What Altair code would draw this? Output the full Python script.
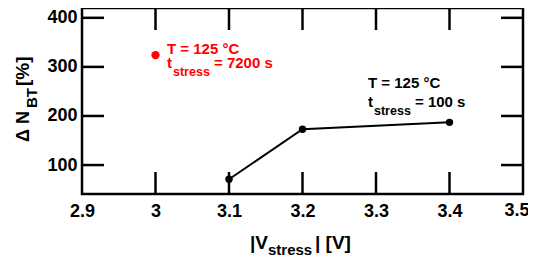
import altair as alt
import pandas as pd

# data
v_black = [3.1, 3.2, 3.4]
n_black = [71, 173, 187]
v_red = [3.0]
n_red = [324]

x_ticks = [3.0, 3.1, 3.2, 3.3, 3.4]
x_labels = [2.9, 3.0, 3.1, 3.2, 3.3, 3.4]
x_last_label = [3.5]
y_ticks = [100, 200, 300, 400]

W, H = 441, 186
FONT = "Liberation Sans"
XDOM = [2.9, 3.5]
YDOM = [41, 420]

black = pd.DataFrame({"v": v_black, "n": n_black})
red = pd.DataFrame({"v": v_red, "n": n_red})

xs = alt.Scale(domain=XDOM, nice=False, zero=False)
ys = alt.Scale(domain=YDOM, nice=False, zero=False)

x_axis = alt.Axis(values=x_labels, format="~g", ticks=False, domain=False, grid=False,
                  labelFont=FONT, labelFontSize=18, labelFontWeight="bold", labelColor="black",
                  labelPadding=8, title=None, labelFlush=False, labelOverlap=False)
y_axis = alt.Axis(values=y_ticks, format="d", ticks=False, domain=False, grid=False,
                  labelFont=FONT, labelFontSize=18, labelFontWeight="bold", labelColor="black",
                  labelPadding=5, title=None)

line = alt.Chart(black).mark_line(color="black", strokeWidth=2).encode(
    x=alt.X("v:Q", scale=xs, axis=x_axis),
    y=alt.Y("n:Q", scale=ys, axis=y_axis),
)
pts = alt.Chart(black).mark_circle(color="black", opacity=1, size=55).encode(
    x=alt.X("v:Q", scale=xs), y=alt.Y("n:Q", scale=ys))
rpts = alt.Chart(red).mark_circle(color="#ff0000", opacity=1, size=70).encode(
    x=alt.X("v:Q", scale=xs), y=alt.Y("n:Q", scale=ys))

# last x label, nudged so it stays inside the page
last_lab = alt.Chart(pd.DataFrame({"v": x_last_label, "t": ["3.5"]})).mark_text(
    font=FONT, fontSize=18, fontWeight="bold", color="black", align="center",
    baseline="top", dx=-6).encode(
    x=alt.X("v:Q", scale=xs), y=alt.value(H + 8), text="t:N")

xt = pd.DataFrame({"v": x_ticks})
yt = pd.DataFrame({"n": y_ticks})
TL = 22
tick_bottom = alt.Chart(xt).mark_rule(color="black", strokeWidth=2.5).encode(
    x=alt.X("v:Q", scale=xs), y=alt.value(H), y2=alt.value(H - TL))
tick_top = alt.Chart(xt).mark_rule(color="black", strokeWidth=2.5).encode(
    x=alt.X("v:Q", scale=xs), y=alt.value(0), y2=alt.value(TL))
tick_left = alt.Chart(yt).mark_rule(color="black", strokeWidth=2.5).encode(
    y=alt.Y("n:Q", scale=ys), x=alt.value(0), x2=alt.value(TL))
tick_right = alt.Chart(yt).mark_rule(color="black", strokeWidth=2.5).encode(
    y=alt.Y("n:Q", scale=ys), x=alt.value(W), x2=alt.value(W - TL))

def txt(s, x, y, size, color="black", angle=0):
    kw = dict(font=FONT, fontWeight="bold", fontSize=size, color=color,
              align="left", baseline="alphabetic")
    if angle:
        kw["angle"] = angle
    return alt.Chart(pd.DataFrame({"t": [s]})).mark_text(**kw).encode(
        text="t:N", x=alt.value(x), y=alt.value(y))

RED = "#ff0000"
texts = [
    # red annotation
    txt("T = 125 °C", 85, 46, 15, RED),
    txt("t", 85, 60, 15, RED),
    txt("stress", 91, 68, 12.5, RED),
    txt("= 7200 s", 132, 60, 15, RED),
    # black annotation
    txt("T = 125 °C", 286, 80, 15),
    txt("t", 286, 99, 15),
    txt("stress", 292, 107, 12.5),
    txt("= 100 s", 333, 99, 15),
    # x title
    txt("|V", 168, 241, 19),
    txt("stress", 186, 247, 15),
    txt("| [V]", 233, 241, 19),
    # y title (rotated)
    txt("Δ N", -53, 134, 18, angle=270),
    txt("BT", -45, 100, 15, angle=270),
    txt("[%]", -53, 78, 19, angle=270),
]

chart = alt.layer(line, pts, rpts, last_lab, tick_bottom, tick_top, tick_left, tick_right, *texts).properties(
    width=W, height=H,
    autosize=alt.AutoSizeParams(type="none"),
    padding={"left": 74, "top": 0, "right": 5, "bottom": 61},
    background="white",
).configure_view(stroke="black", strokeWidth=2.5)

chart.save("out.html", embed_options={"renderer": "svg", "actions": False})
